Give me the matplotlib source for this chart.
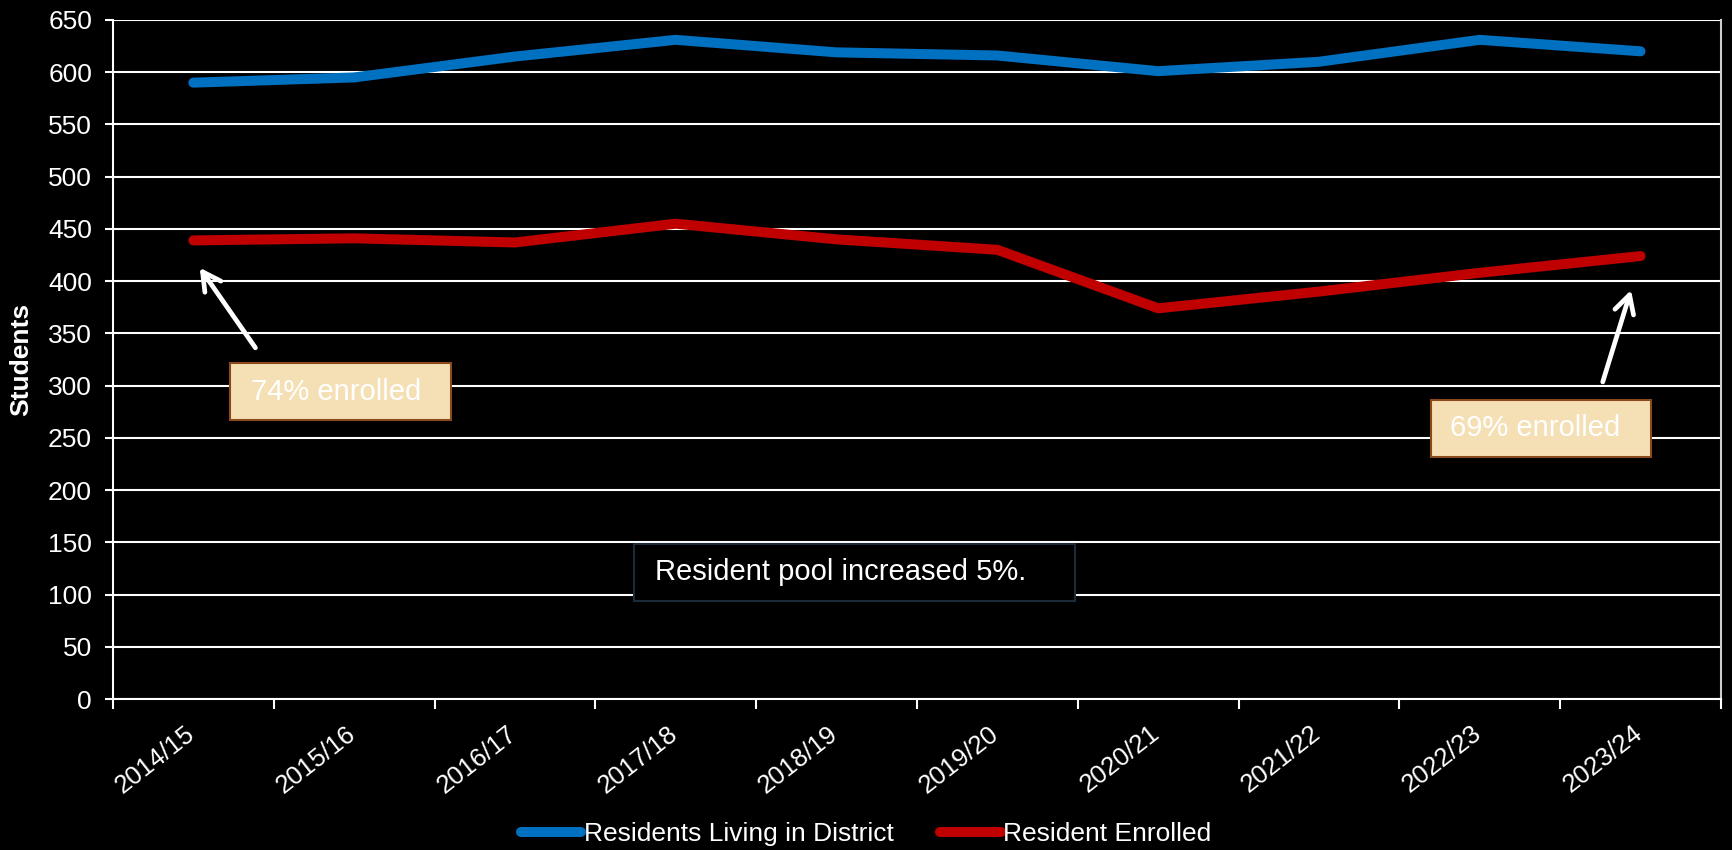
import matplotlib
matplotlib.use('Agg')
import matplotlib.pyplot as plt
import matplotlib.transforms as mtransforms
from matplotlib.patches import Rectangle

# data
years = ['2014/15', '2015/16', '2016/17', '2017/18', '2018/19',
         '2019/20', '2020/21', '2021/22', '2022/23', '2023/24']
residents = [590, 595, 615, 631, 619, 616, 601, 610, 631, 620]
enrolled = [439, 441, 437, 455, 440, 430, 374, 390, 408, 424]

plt.rcParams['font.family'] = ['Liberation Sans', 'DejaVu Sans']

fig = plt.figure(figsize=(17.32, 8.5), dpi=100, facecolor='black')
ax = fig.add_axes([0.0652, 0.1776, 0.9284, 0.7989])
ax.set_facecolor('black')

x = list(range(len(years)))
ax.plot(x, residents, color='#0070C0', lw=7.2, solid_capstyle='round',
        solid_joinstyle='round', label='Residents Living in District', zorder=3)
ax.plot(x, enrolled, color='#C00000', lw=7.2, solid_capstyle='round',
        solid_joinstyle='round', label='Resident Enrolled', zorder=3)

ax.set_xlim(-0.5, len(years) - 0.5)
ax.set_ylim(0, 650)
ax.set_yticks(range(0, 651, 50))
ax.yaxis.grid(True, color='white', lw=1.5)
ax.set_axisbelow(True)

# labels at category centres, tick marks on the boundaries
ax.set_xticks(x)
ax.set_xticklabels(years, rotation=38, ha='right', rotation_mode='anchor')
ax.set_xticks([i - 0.5 for i in range(len(years) + 1)], minor=True)
ax.tick_params(axis='x', which='major', length=0, pad=16, labelsize=18.5, colors='white')
ax.tick_params(axis='x', which='minor', length=7, width=1.5, color='white')
ax.tick_params(axis='y', length=6, width=1.5, pad=9, color='white',
               labelcolor='white', labelsize=19)
shift = mtransforms.ScaledTranslation(-0.085, 0, fig.dpi_scale_trans)
for lab in ax.get_xticklabels():
    lab.set_transform(lab.get_transform() + shift)

for s in ax.spines.values():
    s.set_color('white')
    s.set_linewidth(1.5)
ax.spines['right'].set_color('#cccccc')
ax.spines['top'].set_visible(False)

ax.set_ylabel('Students', color='white', fontsize=19, fontweight='bold')
ax.yaxis.set_label_coords(-0.0497, 0.5)

# callouts
arrow = dict(arrowstyle='->, head_length=1.3, head_width=0.7', color='white', lw=3.4)

ax.add_patch(Rectangle((0.228, 267), 1.374, 54.6, facecolor='#F5E0B5',
                       edgecolor='#8B4A1C', lw=1.5, zorder=4))
ax.text(0.358, 294, '74% enrolled', color='white', fontsize=21, va='center', zorder=5)
ax.annotate('', xy=(0.03, 415), xytext=(0.396, 334), arrowprops=arrow, zorder=5)

ax.add_patch(Rectangle((7.697, 231.7), 1.368, 54.5, facecolor='#F5E0B5',
                       edgecolor='#8B4A1C', lw=1.5, zorder=4))
ax.text(7.815, 259.4, '69% enrolled', color='white', fontsize=21, va='center', zorder=5)
ax.annotate('', xy=(8.946, 394), xytext=(8.76, 301), arrowprops=arrow, zorder=5)

ax.add_patch(Rectangle((2.74, 93.8), 2.74, 54.6, facecolor='black',
                       edgecolor='#1c2b3a', lw=1.5, zorder=4))
ax.text(2.87, 121.6, 'Resident pool increased 5%.', color='white', fontsize=21,
        va='center', zorder=5)

leg = fig.legend(loc='center', bbox_to_anchor=(0.5, 0.019), ncol=2, frameon=False,
                 handlelength=2.3, handletextpad=0.1, columnspacing=1.75,
                 prop={'family': ['Liberation Sans'], 'size': 19})
for t in leg.get_texts():
    t.set_color('white')

fig.savefig('out.png', dpi=100, facecolor='black')
